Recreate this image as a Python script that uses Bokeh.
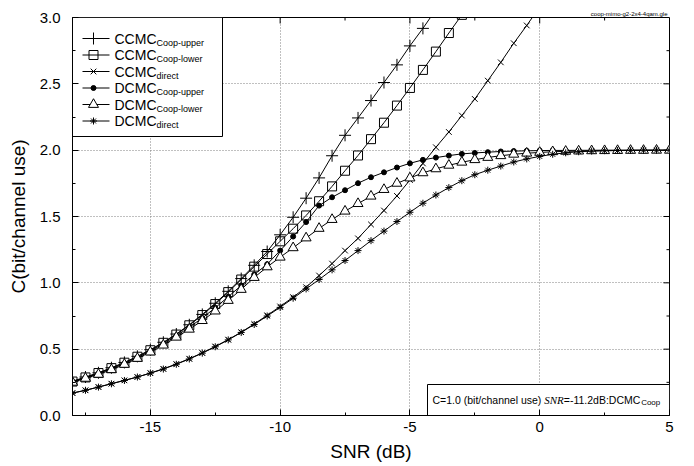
from bokeh.plotting import figure
from bokeh.models import FixedTicker, NumeralTickFormatter
from bokeh.core.properties import value
from bokeh.embed import file_html
from bokeh.resources import INLINE

# ---------------- data ----------------
snr = [-18.0, -17.5, -17.0, -16.5, -16.0, -15.5, -15.0, -14.5, -14.0, -13.5,
       -13.0, -12.5, -12.0, -11.5, -11.0, -10.5, -10.0, -9.5, -9.0, -8.5,
       -8.0, -7.5, -7.0, -6.5, -6.0, -5.5, -5.0, -4.5, -4.0, -3.5,
       -3.0, -2.5, -2.0, -1.5, -1.0, -0.5, 0.0, 0.5, 1.0, 1.5,
       2.0, 2.5, 3.0, 3.5, 4.0, 4.5, 5.0]

ccmc_coop_upper = [0.258, 0.290, 0.322, 0.360, 0.400, 0.446, 0.496, 0.552, 0.614, 0.684,
                   0.762, 0.846, 0.936, 1.032, 1.132, 1.236, 1.362, 1.494, 1.638, 1.791,
                   1.958, 2.112, 2.243, 2.374, 2.510, 2.643, 2.786, 2.918, 3.060]
ccmc_coop_lower = [0.256, 0.287, 0.320, 0.357, 0.398, 0.443, 0.492, 0.548, 0.610, 0.680,
                   0.757, 0.840, 0.930, 1.025, 1.122, 1.217, 1.313, 1.408, 1.508, 1.615,
                   1.727, 1.845, 1.960, 2.083, 2.207, 2.336, 2.469, 2.605, 2.743, 2.883,
                   3.020]
ccmc_direct = [0.170, 0.190, 0.215, 0.240, 0.265, 0.290, 0.320, 0.352, 0.388, 0.428,
               0.472, 0.520, 0.572, 0.628, 0.690, 0.755, 0.822, 0.892, 0.967, 1.055,
               1.145, 1.243, 1.335, 1.440, 1.545, 1.655, 1.775, 1.900, 2.022, 2.137,
               2.261, 2.386, 2.524, 2.662, 2.806, 2.940, 3.080]
dcmc_coop_upper = [0.255, 0.285, 0.317, 0.352, 0.392, 0.437, 0.486, 0.540, 0.600, 0.665,
                   0.735, 0.812, 0.895, 0.980, 1.062, 1.140, 1.243, 1.349, 1.458, 1.582,
                   1.645, 1.698, 1.751, 1.796, 1.833, 1.869, 1.901, 1.927, 1.944, 1.959,
                   1.972, 1.979, 1.985, 1.990, 1.993, 1.995, 1.997, 1.998, 1.998, 1.999,
                   1.999, 2.000, 2.000, 2.000, 2.000, 2.000, 2.000]
dcmc_coop_lower = [0.250, 0.280, 0.310, 0.345, 0.385, 0.430, 0.478, 0.530, 0.590, 0.650,
                   0.715, 0.787, 0.867, 0.950, 1.040, 1.120, 1.193, 1.264, 1.338, 1.410,
                   1.477, 1.540, 1.597, 1.653, 1.703, 1.750, 1.790, 1.829, 1.859, 1.886,
                   1.909, 1.928, 1.945, 1.958, 1.969, 1.977, 1.983, 1.988, 1.991, 1.993,
                   1.995, 1.996, 1.997, 1.998, 1.998, 1.999, 1.999]
dcmc_direct = [0.168, 0.190, 0.214, 0.239, 0.264, 0.290, 0.319, 0.350, 0.386, 0.426,
               0.470, 0.518, 0.570, 0.626, 0.686, 0.750, 0.815, 0.884, 0.954, 1.025,
               1.098, 1.168, 1.243, 1.318, 1.390, 1.462, 1.532, 1.600, 1.662, 1.718,
               1.770, 1.815, 1.849, 1.880, 1.911, 1.934, 1.953, 1.969, 1.980, 1.988,
               1.993, 1.996, 1.998, 1.999, 2.000, 2.000, 2.000]

x_ticks = [-15, -10, -5, 0, 5]
y_ticks = [0.0, 0.5, 1.0, 1.5, 2.0, 2.5, 3.0]

legend_main = ["CCMC", "CCMC", "CCMC", "DCMC", "DCMC", "DCMC"]
legend_sub = ["Coop-upper", "Coop-lower", "direct", "Coop-upper", "Coop-lower", "direct"]

x_title = "SNR (dB)"
y_title = "C(bit/channel use)"
note_a = "C=1.0 (bit/channel use) "
note_b = "SNR"
note_c = "=-11.2dB:DCMC"
note_d = "Coop"
file_tag = "coop-mimo-g2-2x4-4qam.gle"

# ---------------- styles ----------------
series = [
    (ccmc_coop_upper, "cross", 12, None),
    (ccmc_coop_lower, "square", 9, None),
    (ccmc_direct, "x", 8, None),
    (dcmc_coop_upper, "circle", 5, "black"),
    (dcmc_coop_lower, "triangle", 10, "white"),
    (dcmc_direct, "asterisk", 7, None),
]

FONT = "Liberation Sans"
X0, X1, Y0, Y1 = -18.0, 5.0, 0.0, 3.0
FW, FH = 597.0, 398.0  # frame size in px

def dx(px):
    return px * (X1 - X0) / FW

def dy(px):
    return px * (Y1 - Y0) / FH

p = figure(width=694, height=466, x_range=(X0, X1), y_range=(Y0, Y1),
           output_backend="svg", toolbar_location=None,
           min_border_left=72, min_border_right=25, min_border_top=17, min_border_bottom=51)
p.outline_line_color = "black"
p.outline_line_width = 1
p.background_fill_color = "white"
p.border_fill_color = "white"

p.title.text = file_tag
p.title.align = "right"
p.title.text_font = FONT
p.title.text_font_size = "6px"
p.title.text_font_style = "normal"
p.title.text_color = "black"
p.title.standoff = 2
p.title.offset = 2

x_minor = [t - 2.5 for t in x_ticks]
y_minor = [t + 0.25 for t in y_ticks[:-1]]
xt = FixedTicker(ticks=x_ticks, minor_ticks=x_minor)
yt = FixedTicker(ticks=y_ticks, minor_ticks=y_minor)
p.xaxis.ticker = xt
p.yaxis.ticker = yt
p.xgrid.ticker = xt
p.ygrid.ticker = yt
p.xaxis.formatter = NumeralTickFormatter(format="0")
p.yaxis.formatter = NumeralTickFormatter(format="0.0")

for ax in [p.xaxis[0], p.yaxis[0]]:
    ax.major_tick_in = 6
    ax.major_tick_out = 0
    ax.minor_tick_in = 3
    ax.minor_tick_out = 0
    ax.axis_line_color = "black"
    ax.major_tick_line_color = "black"
    ax.minor_tick_line_color = "black"
    ax.major_label_text_font = FONT
    ax.major_label_text_font_size = "15px"
    ax.major_label_text_color = "black"
    ax.axis_label_text_font = FONT
    ax.axis_label_text_font_size = "19px"
    ax.axis_label_text_font_style = "normal"
    ax.axis_label_text_color = "black"

p.xaxis.axis_label = x_title
p.yaxis.axis_label = y_title
p.xaxis.major_label_standoff = 6
p.xaxis.axis_label_standoff = 6
p.yaxis.major_label_standoff = 12
p.yaxis.axis_label_standoff = 8

for g in [p.xgrid[0], p.ygrid[0]]:
    g.grid_line_color = "#808080"
    g.grid_line_dash = "1 2"
    g.grid_line_width = 1

# mirrored inward ticks on top and right edges
for t in x_ticks[:-1]:
    p.segment(x0=[t], y0=[Y1], x1=[t], y1=[Y1 - dy(6)], line_color="black", line_width=1)
for t in x_minor:
    p.segment(x0=[t], y0=[Y1], x1=[t], y1=[Y1 - dy(3)], line_color="black", line_width=1)
for t in y_ticks[1:-1]:
    p.segment(x0=[X1], y0=[t], x1=[X1 - dx(6)], y1=[t], line_color="black", line_width=1)
for t in y_minor:
    p.segment(x0=[X1], y0=[t], x1=[X1 - dx(3)], y1=[t], line_color="black", line_width=1)

# ---------------- curves ----------------
for vals, mk, sz, fill in series:
    xs = snr[:len(vals)]
    p.line(xs, vals, line_color="black", line_width=1)
    p.scatter(xs, vals, marker=mk, size=sz, line_color="black", line_width=1,
              fill_color=fill if fill else None)

# ---------------- legend (manual, for subscripts) ----------------
lg_right = X0 + dx(150)
lg_bottom = Y1 - dy(119)
p.quad(left=[X0], right=[lg_right], top=[Y1], bottom=[lg_bottom],
       fill_color="white", line_color="black", line_width=1)
row_px = [21, 37.5, 54, 70.5, 87, 103.5]
main_w = 2.999 * 14  # width of "CCMC"/"DCMC" at 14px
for i, (vals, mk, sz, fill) in enumerate(series):
    yy = Y1 - dy(row_px[i])
    p.segment(x0=[X0 + dx(10)], y0=[yy], x1=[X0 + dx(37)], y1=[yy],
              line_color="black", line_width=1)
    p.scatter([X0 + dx(21)], [yy], marker=mk, size=sz, line_color="black",
              line_width=1, fill_color=fill if fill else None)
    p.text([X0 + dx(42)], [yy], text=[legend_main[i]], text_font=value(FONT),
           text_font_size="14px", text_baseline="middle", text_align="left",
           text_color="black")
    p.text([X0 + dx(42 + main_w)], [yy - dy(4)], text=[legend_sub[i]], text_font=value(FONT),
           text_font_size="9px", text_baseline="middle", text_align="left",
           text_color="black")

# ---------------- annotation box ----------------
nb_left = X0 + dx(355)
nb_top = dy(31)
p.quad(left=[nb_left], right=[X1], top=[nb_top], bottom=[Y0],
       fill_color="white", line_color="black", line_width=1)
fs = 10.5
ny = dy(16)
xa = nb_left + dx(5)
p.text([xa], [ny], text=[note_a], text_font=value(FONT), text_font_size="10.5px",
       text_baseline="middle", text_color="black")
xb = xa + dx(10.644 * fs)
p.text([xb], [ny], text=[note_b], text_font=value("Liberation Serif"), text_font_size="11px",
       text_font_style="italic", text_baseline="middle", text_color="black")
xc = xb + dx(1.778 * 11)
p.text([xc], [ny], text=[note_c], text_font=value(FONT), text_font_size="10.5px",
       text_baseline="middle", text_color="black")
xd = xc + dx(7.363 * fs)
p.text([xd], [ny - dy(3)], text=[note_d], text_font=value(FONT), text_font_size="8px",
       text_baseline="middle", text_color="black")

open("out.html", "w").write(file_html(p, INLINE))
